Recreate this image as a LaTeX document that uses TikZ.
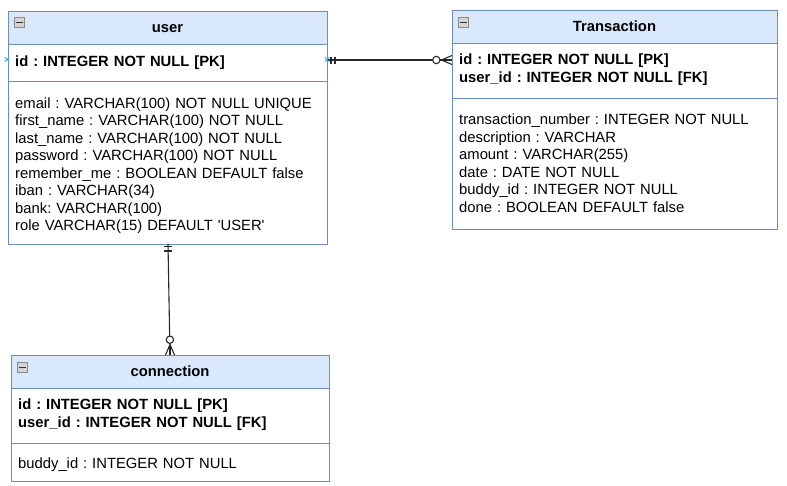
\documentclass[tikz,border=0pt]{standalone}
\usepackage{fontspec}
\setmainfont{Liberation Sans}
\usetikzlibrary{calc}
\definecolor{hdr}{HTML}{DAE8FC}
\definecolor{bdr}{HTML}{6C8EBF}
\definecolor{selx}{HTML}{3AAEE8}
\definecolor{icn}{HTML}{D4D4D4}
\definecolor{icnb}{HTML}{8A8A8A}
\tikzset{
  x=1pt, y={(0pt,-1pt)},
  tbl/.style={draw=bdr, line width=1pt, fill=white, rectangle, inner sep=0pt, anchor=north west},
  hdrbox/.style={draw=bdr, line width=1pt, fill=hdr, rectangle, inner sep=0pt, anchor=north west, minimum height=33pt},
  sep/.style={draw=bdr, line width=1pt},
  ttl/.style={font=\fontsize{14.8}{17.55}\selectfont\frenchspacing\bfseries, anchor=base, inner sep=0pt},
  pkrows/.style={font=\fontsize{14.8}{17.55}\selectfont\frenchspacing\bfseries, anchor=base west, inner sep=0pt, text width=310pt, align=left},
  rows/.style={font=\fontsize{14.8}{17.55}\selectfont\frenchspacing, anchor=base west, inner sep=0pt, text width=310pt, align=left},
  icon/.style={draw=icnb, fill=icn, line width=0.6pt, rectangle, inner sep=0pt, minimum width=10pt, minimum height=9.5pt, anchor=north west},
  conn/.style={draw=black!85, line width=1.1pt},
  selmark/.style={draw=selx, line width=0.9pt},
}
\begin{document}
\begin{tikzpicture}
\path[use as bounding box, fill=white] (0,0) rectangle (787,485);

% ---------- user ----------
\node[tbl, minimum width=319pt, minimum height=233pt] (user) at (8,11) {};
\node[hdrbox, minimum width=319pt] (userh) at (user.north west) {};
\draw[sep] (8,81) -- (327,81);
\node[icon] (useri) at (14,17) {};
\draw[black!80, line width=1pt] ($(useri.west)+(2,0)$) -- ($(useri.east)+(-2,0)$);
\node[ttl] (usert) at (167.5,32.5) {user};
\node[pkrows] (userpk) at (15,66) {id : INTEGER NOT NULL [PK]};
\node[rows] (userb) at (15,108) {email : VARCHAR(100) NOT NULL UNIQUE\\
first\_name : VARCHAR(100) NOT NULL\\
last\_name : VARCHAR(100) NOT NULL\\
password : VARCHAR(100) NOT NULL\\
remember\_me : BOOLEAN DEFAULT false\\
iban : VARCHAR(34)\\
bank: VARCHAR(100)\\
role VARCHAR(15) DEFAULT \textquotesingle USER\textquotesingle};

% ---------- Transaction ----------
\node[tbl, minimum width=325pt, minimum height=219pt] (trans) at (452,10) {};
\node[hdrbox, minimum width=325pt] (transh) at (trans.north west) {};
\draw[sep] (452,98) -- (777,98);
\node[icon] (transi) at (458,17) {};
\draw[black!80, line width=1pt] ($(transi.west)+(2,0)$) -- ($(transi.east)+(-2,0)$);
\node[ttl] (transt) at (614.5,31.5) {Transaction};
\node[pkrows] (transpk) at (459,64.5) {id : INTEGER NOT NULL [PK]\\
user\_id : INTEGER NOT NULL [FK]};
\node[rows] (transb) at (459,124.5) {transaction\_number : INTEGER NOT NULL\\
description : VARCHAR\\
amount : VARCHAR(255)\\
date : DATE NOT NULL\\
buddy\_id : INTEGER NOT NULL\\
done : BOOLEAN DEFAULT false};

% ---------- connection ----------
\node[tbl, minimum width=318pt, minimum height=126pt] (conn) at (11,355) {};
\node[hdrbox, minimum width=318pt] (connh) at (conn.north west) {};
\draw[sep] (11,443) -- (329,443);
\node[icon] (conni) at (17,362) {};
\draw[black!80, line width=1pt] ($(conni.west)+(2,0)$) -- ($(conni.east)+(-2,0)$);
\node[ttl] (connt) at (170,376) {connection};
\node[pkrows] (connpk) at (18,409.5) {id : INTEGER NOT NULL [PK]\\
user\_id : INTEGER NOT NULL [FK]};
\node[rows] (connb) at (18,468.5) {buddy\_id : INTEGER NOT NULL};

% ---------- user -- Transaction (one to zero-or-many) ----------
\coordinate (ue) at (327,60);
\coordinate (tw) at (452,60);
\draw[conn] (ue) -- (tw);
\draw[conn] ($(ue)+(4,-3.5)$) -- ($(ue)+(4,3.5)$);
\draw[conn] ($(ue)+(8,-3.5)$) -- ($(ue)+(8,3.5)$);
\draw[conn, fill=white] ($(tw)+(-15.7,0)$) circle (3.7pt);
\draw[conn] ($(tw)+(-10.5,0)$) -- ($(tw)+(0,-4.5)$);
\draw[conn] ($(tw)+(-10.5,0)$) -- (tw);
\draw[conn] ($(tw)+(-10.5,0)$) -- ($(tw)+(0,4.5)$);

% ---------- user -- connection (one to zero-or-many) ----------
\coordinate (us) at (168,244);
\coordinate (cn) at (170,355);
\draw[conn] (us) -- (cn);
\draw[conn] ($(us)+(-4,2.7)$) -- ($(us)+(4,2.7)$);
\draw[conn] ($(us)+(-4,7)$) -- ($(us)+(4,7)$);
\draw[conn, fill=white] ($(cn)+(-0.1,-15.3)$) circle (3.7pt);
\draw[conn] ($(cn)+(0,-10.5)$) -- ($(cn)+(-4.5,0)$);
\draw[conn] ($(cn)+(0,-10.5)$) -- (cn);
\draw[conn] ($(cn)+(0,-10.5)$) -- ($(cn)+(4.5,0)$);

% ---------- selection markers ----------
\coordinate (sx1) at (7,59.5);
\coordinate (sx2) at (327,59.5);
\draw[selmark] ($(sx1)+(-2.2,-2.2)$) -- ($(sx1)+(2.2,2.2)$);
\draw[selmark] ($(sx1)+(-2.2,2.2)$) -- ($(sx1)+(2.2,-2.2)$);
\draw[selmark] ($(sx2)+(-2.2,-2.2)$) -- ($(sx2)+(2.2,2.2)$);
\draw[selmark] ($(sx2)+(-2.2,2.2)$) -- ($(sx2)+(2.2,-2.2)$);
\end{tikzpicture}
\end{document}
